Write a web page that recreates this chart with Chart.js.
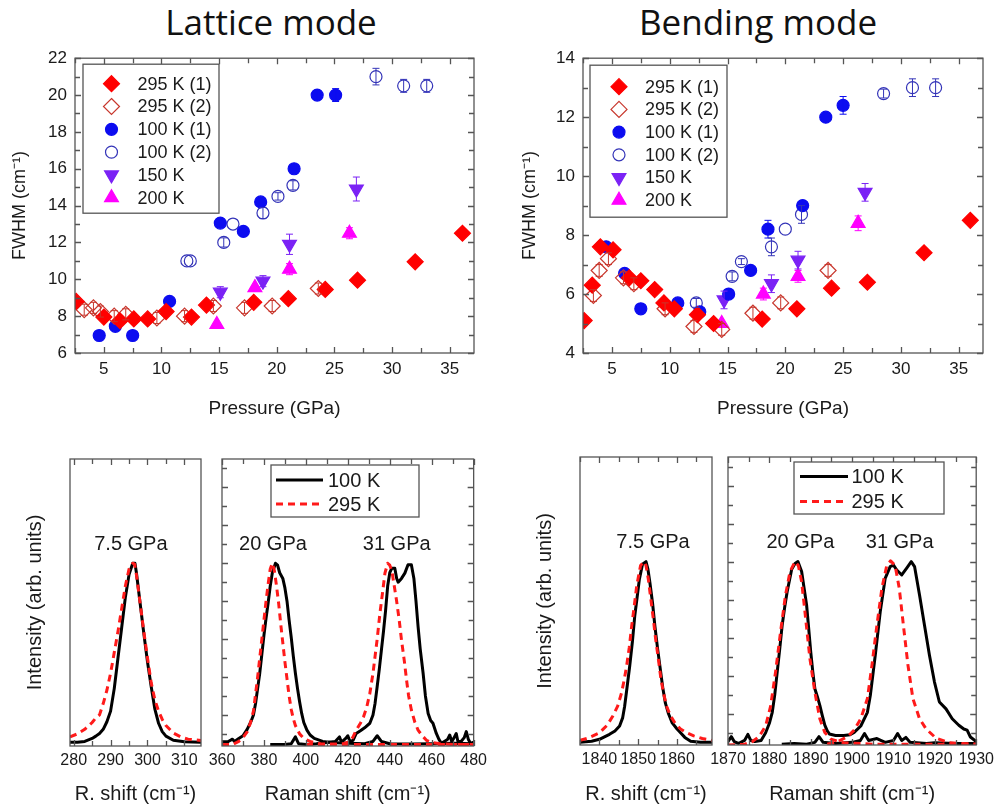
<!DOCTYPE html>
<html>
<head>
<meta charset="utf-8">
<script src="https://cdn.jsdelivr.net/npm/chart.js@4.4.1/dist/chart.umd.min.js"></script>
<style>
  body { margin: 0; background: #fff; width: 999px; height: 806px; position: relative; overflow: hidden; }
  canvas { position: absolute; }
  .ttl { position: absolute; top: 2px; font-family: "Open Sans", sans-serif; font-size: 35px; line-height: 40px; color: #111; transform: translateX(-50%); white-space: nowrap; }
</style>
</head>
<body>
<div class="ttl" style="left:271px">Lattice mode</div>
<div class="ttl" style="left:758px">Bending mode</div>
<canvas id="latFwhm" width="490" height="380" style="left:0;top:40px"></canvas>
<canvas id="bendFwhm" width="499" height="380" style="left:500px;top:40px"></canvas>
<canvas id="latLow" width="212" height="366" style="left:0;top:440px"></canvas>
<canvas id="latHigh" width="296" height="366" style="left:196px;top:440px"></canvas>
<canvas id="bendLow" width="222" height="366" style="left:500px;top:440px"></canvas>
<canvas id="bendHigh" width="299" height="366" style="left:700px;top:440px"></canvas>
<script>
// FWHM vs pressure, points are [pressure GPa, FWHM cm-1, error bar]
var lat295a = [[2.6,8.8],[5.0,7.95],[6.4,7.75],[7.6,7.85],[8.8,7.85],[10.4,8.25],[12.6,7.95],[13.9,8.6],[18.0,8.75],[21.0,8.95],[24.2,9.45],[27.0,9.95],[32.0,10.95],[36.1,12.5]];
var lat295b = [[3.3,8.35,0.3],[4.1,8.45,0.3],[4.7,8.25,0.3],[5.9,8.0,0.3],[6.9,8.1,0.3],[9.6,7.9,0.3],[12.0,8.0,0.3],[14.5,8.55,0.3],[17.2,8.45,0.3],[19.6,8.55,0.3],[23.6,9.5,0.3]];
var lat100a = [[4.6,6.95],[6.0,7.45],[7.5,6.95],[10.7,8.8],[15.1,13.05],[17.1,12.6],[18.6,14.2],[21.5,16.0],[23.5,20.0,0.25],[25.1,20.0,0.35]];
var lat100b = [[12.2,11.0],[12.5,11.0],[15.4,12.0,0.25],[16.2,13.0],[18.8,13.6,0.3],[20.1,14.5,0.2],[21.4,15.1,0.25],[28.6,21.0,0.45],[31.0,20.5,0.35],[33.0,20.5,0.35]];
var lat150 = [[15.1,9.3,0.3],[18.8,9.9,0.3],[21.1,11.9,0.55],[26.9,14.9,0.65]];
var lat200 = [[14.8,7.55],[18.1,9.55],[21.1,10.55,0.3],[26.3,12.5,0.3]];

var bend295a = [[2.6,5.1],[3.3,6.3],[4.0,7.6],[5.1,7.5],[6.5,6.55],[7.5,6.45],[8.7,6.15],[9.5,5.7],[10.4,5.5],[12.4,5.3],[13.8,5.0],[18.0,5.15],[21.0,5.5],[24.0,6.2],[27.1,6.4],[32.0,7.4],[36.0,8.5]];
var bend295b = [[3.4,5.95,0.2],[3.9,6.8,0.2],[4.7,7.2,0.2],[6.0,6.55,0.2],[6.9,6.35,0.2],[9.6,5.5,0.2],[12.1,4.9,0.2],[14.5,4.8,0.2],[17.2,5.35,0.2],[19.6,5.7,0.2],[23.7,6.8,0.2]];
var bend100a = [[4.5,7.6],[6.1,6.7],[7.5,5.5],[10.7,5.7],[12.6,5.4],[15.1,6.0],[17.0,6.8],[18.5,8.2,0.3],[21.5,9.0,0.15],[23.5,12.0],[25.0,12.4,0.3]];
var bend100b = [[12.3,5.7,0.15],[15.4,6.6,0.15],[16.2,7.1,0.1],[18.8,7.6,0.3],[20.0,8.2],[21.4,8.7,0.3],[28.5,12.8,0.15],[31.0,13.0,0.3],[33.0,13.0,0.3]];
var bend150 = [[14.7,5.8,0.3],[18.8,6.35,0.3],[21.1,7.15,0.3],[26.9,9.45,0.3]];
var bend200 = [[14.5,5.0],[18.1,6.0,0.2],[21.1,6.6,0.2],[26.3,8.4,0.25]];

var seriesLabels = ['295 K (1)', '295 K (2)', '100 K (1)', '100 K (2)', '150 K', '200 K'];

// Raman spectra, points are [shift cm-1, intensity]
var lat75Black = [[279,0.28],[281,0.28],[283,0.3],[285,0.38],[286,0.44],[287,0.51],[288,0.62],[289,0.82],[290,1.1],[291,1.7],[292,2.5],[293,3.3],[294,4.1],[295,4.7],[296,5.0],[296.6,5.0],[297,4.75],[298,3.95],[299,3.15],[300,2.4],[301,1.75],[302,1.15],[303,0.78],[304,0.56],[305,0.44],[307,0.33],[310,0.29],[315,0.28]];
var lat75Red = [[279,0.42],[281,0.5],[283,0.62],[285,0.8],[286,0.92],[287,1.0],[288,1.3],[289,1.65],[290,2.1],[291,2.65],[292,3.2],[293,3.8],[294,4.4],[295,4.85],[296,5.0],[296.5,4.98],[297,4.7],[298,3.95],[299,3.2],[300,2.5],[301,1.85],[302,1.4],[303,1.1],[304,0.88],[305,0.72],[307,0.52],[309,0.42],[311,0.36],[315,0.32]];
var lat20Black = [[360,0.29],[363,0.3],[365,0.36],[366,0.3],[368,0.38],[370,0.45],[372,0.62],[374,0.85],[375,1.0],[376,1.3],[377,1.7],[378,2.1],[379,2.6],[380,3.1],[381,3.55],[382,3.95],[383,4.4],[384,4.75],[385.5,5.0],[386.5,4.95],[387.5,4.75],[389,4.6],[390,4.35],[391,4.0],[392,3.5],[393,3.05],[394,2.55],[395,2.1],[396,1.7],[397,1.35],[398,1.04],[399,0.8],[400.5,0.6],[402,0.47],[404,0.38],[408,0.3],[412,0.27],[420,0.25],[428,0.24],[432,0.3],[434,0.45],[436,0.3],[440,0.24],[450,0.23],[460,0.24],[470,0.25],[480,0.24]];
var lat31Black = [[383,0.22],[390,0.22],[393,0.24],[395,0.42],[396.5,0.24],[400,0.22],[405,0.24],[410,0.27],[414,0.3],[416,0.42],[417,0.28],[419,0.38],[420,0.45],[421,0.3],[422.5,0.33],[424,0.51],[426,0.58],[428,0.66],[430.5,0.78],[432,1.0],[433,1.31],[434,1.75],[435,2.2],[436,2.7],[437,3.2],[438,3.75],[439,4.4],[440,4.75],[441,4.87],[442.4,4.87],[443.3,4.6],[444,4.5],[445.6,4.6],[447.2,4.74],[448.7,4.96],[450.3,4.96],[451.5,4.6],[452.5,4.0],[453.5,3.33],[454.5,2.75],[455.9,2.1],[457,1.5],[458.3,1.04],[459.5,0.85],[460.6,0.78],[462.2,0.51],[463.5,0.35],[464.6,0.25],[466,0.3],[467.5,0.35],[468.6,0.47],[469.5,0.3],[470.5,0.38],[471.7,0.51],[472.5,0.3],[474,0.3],[475.5,0.4],[476.5,0.56],[477.5,0.35],[478.5,0.25],[480,0.28]];
var lat20Red = [[360,0.22],[365,0.22],[368,0.3],[370,0.4],[372,0.55],[373.5,0.78],[375,1.1],[376,1.55],[377,2.0],[378,2.5],[379,3.0],[380,3.5],[381,4.0],[382,4.45],[383,4.85],[384,5.0],[385,4.8],[386,4.4],[387,3.95],[388,3.4],[389,2.9],[390,2.4],[391,1.95],[392,1.5],[393,1.15],[394,0.9],[395,0.72],[397,0.5],[399,0.38],[402,0.3],[407,0.24],[415,0.22],[425,0.22],[440,0.22],[460,0.22],[480,0.22]];
var lat31Red = [[400,0.22],[410,0.22],[418,0.24],[421,0.3],[422.5,0.42],[424,0.6],[426,0.78],[427.5,0.95],[429,1.2],[430.5,1.57],[432,2.1],[433,2.55],[434,3.0],[435.3,3.68],[436.5,4.2],[437.7,4.74],[439,5.0],[440,4.95],[441,4.8],[442,4.45],[443.2,4.03],[444.5,3.5],[445.6,2.97],[447,2.4],[448,1.92],[449,1.5],[450.3,1.13],[452,0.8],[453.5,0.6],[455.5,0.45],[457.5,0.33],[460,0.27],[464,0.24],[470,0.22],[480,0.22]];

var bend75Black = [[1835,0.25],[1838,0.28],[1840,0.33],[1842.6,0.46],[1844,0.55],[1845.2,0.68],[1846,0.9],[1846.5,1.2],[1847,1.6],[1847.8,2.25],[1848.5,2.9],[1849.1,3.57],[1849.7,4.05],[1850.3,4.54],[1851.1,4.93],[1852,5.0],[1852.5,4.8],[1853,4.45],[1853.7,3.9],[1854.3,3.3],[1855,2.7],[1855.7,2.16],[1856.3,1.7],[1857,1.28],[1857.8,1.0],[1858.7,0.77],[1860,0.6],[1860.9,0.5],[1862,0.38],[1863.5,0.28],[1866,0.25],[1869,0.25]];
var bend75Red = [[1835,0.3],[1837,0.36],[1840,0.5],[1842,0.7],[1843.5,0.95],[1844.7,1.2],[1845.7,1.55],[1846.4,1.9],[1847,2.25],[1847.7,2.75],[1848.3,3.3],[1849,3.85],[1849.6,4.36],[1850.6,4.9],[1851.5,5.0],[1852,4.9],[1852.6,4.54],[1853.2,4.05],[1853.9,3.48],[1854.5,2.95],[1855.2,2.43],[1855.8,1.95],[1856.5,1.55],[1857.3,1.2],[1858.3,0.95],[1859.5,0.75],[1860.9,0.6],[1862.5,0.5],[1864.3,0.42],[1866.5,0.35],[1869,0.3]];
var bend20Black = [[1870,0.27],[1870.8,0.4],[1871.5,0.27],[1872.5,0.22],[1874,0.3],[1874.8,0.46],[1875.5,0.3],[1876.5,0.27],[1878,0.3],[1879.1,0.5],[1880,0.75],[1880.7,1.04],[1881.3,1.5],[1881.9,2.1],[1882.5,2.7],[1883.1,3.33],[1883.7,3.8],[1884.3,4.21],[1885.4,4.8],[1886.2,4.95],[1886.9,5.0],[1887.8,4.74],[1888.4,4.3],[1889,3.86],[1889.5,3.25],[1890,2.63],[1890.5,2.1],[1891,1.66],[1891.6,1.45],[1892.2,1.22],[1892.8,0.95],[1893.4,0.7],[1894,0.55],[1894.5,0.47],[1896,0.43],[1898,0.43],[1899.5,0.45],[1900.5,0.51],[1902.1,0.68],[1903.7,1.04],[1904.4,1.48],[1905.6,2.54],[1906.8,3.68],[1908,4.56],[1909.2,4.87],[1910,4.91],[1910.8,4.78],[1912,4.65],[1913.2,4.83],[1914.3,5.0],[1915.1,4.87],[1916.3,4.12],[1917.5,3.33],[1918.7,2.54],[1919.9,1.84],[1921.1,1.31],[1922.7,1.13],[1924.2,0.87],[1925.8,0.7],[1927,0.6],[1927.8,0.57],[1928.6,0.39],[1930,0.27]];
var bend31Black = [[1883,0.2],[1886,0.22],[1889,0.2],[1891,0.25],[1892,0.4],[1893,0.25],[1896,0.22],[1900,0.25],[1902,0.3],[1903,0.48],[1904,0.3],[1906,0.35],[1908,0.25],[1910,0.3],[1911,0.48],[1912,0.3],[1913,0.38],[1914,0.25],[1918,0.22],[1920,0.24],[1925,0.22],[1930,0.22]];
var bend20Red = [[1870,0.18],[1874,0.2],[1875.9,0.27],[1877.5,0.4],[1879.1,0.68],[1880.3,1.2],[1881.5,2.1],[1882.7,3.15],[1883.9,4.12],[1885,4.74],[1886.2,5.0],[1887,4.9],[1887.8,4.47],[1888.6,3.68],[1889.8,2.45],[1891,1.57],[1892.2,0.87],[1893.4,0.51],[1894.9,0.33],[1898,0.24],[1905,0.2],[1915,0.2],[1930,0.2]];
var bend31Red = [[1894,0.2],[1896.5,0.27],[1898.9,0.4],[1900.5,0.57],[1902.1,0.87],[1903.7,1.4],[1904.8,2.28],[1906,3.33],[1907.2,4.3],[1908.4,4.91],[1909.3,5.02],[1910.4,4.9],[1911.4,4.3],[1912.4,3.33],[1913.5,2.28],[1914.7,1.4],[1916.3,0.87],[1917.9,0.6],[1920.3,0.36],[1923.4,0.24],[1930,0.2]];

// tick labels
var pressureTicks = [5, 10, 15, 20, 25, 30, 35];
var pressureMinor = [2.5, 7.5, 12.5, 17.5, 22.5, 27.5, 32.5, 37.5];
var latFwhmTicks = [6, 8, 10, 12, 14, 16, 18, 20, 22];
var latFwhmMinor = [7, 9, 11, 13, 15, 17, 19, 21];
var bendFwhmTicks = [4, 6, 8, 10, 12, 14];
var bendFwhmMinor = [5, 7, 9, 11, 13];
var latLowTicks = [280, 290, 300, 310];
var latLowMinor = [285, 295, 305, 315];
var latHighTicks = [360, 380, 400, 420, 440, 460, 480];
var latHighMinor = [370, 390, 410, 430, 450, 470];
var bendLowTicks = [1840, 1850, 1860];
var bendLowMinor = [1835, 1845, 1855, 1865];
var bendHighTicks = [1870, 1880, 1890, 1900, 1910, 1920, 1930];
var bendHighMinor = [1875, 1885, 1895, 1905, 1915, 1925];
var intensityTicks = [1, 2, 3, 4, 5, 6, 7];
var intensityMinor = [0.5, 1.5, 2.5, 3.5, 4.5, 5.5, 6.5, 7.5];

Chart.defaults.font.family = "'Liberation Sans', Arial, sans-serif";
Chart.defaults.color = '#1a1a1a';
Chart.defaults.animation = false;

var AXIS = '#555';
var CM = '(cm\u207B\u00B9)';

// marker shapes for the legends
function marker(ctx, style, r, rot, x, y) {
  ctx.beginPath();
  if (style == 'circle') {
    ctx.arc(x, y, r, 0, Math.PI * 2);
  } else if (style == 'rectRot') {
    ctx.moveTo(x, y - r); ctx.lineTo(x + r, y); ctx.lineTo(x, y + r); ctx.lineTo(x - r, y); ctx.closePath();
  } else {
    var a = (rot || 0) * Math.PI / 180;
    for (var k = 0; k < 3; k++) {
      var px = x + Math.sin(a) * r, py = y - Math.cos(a) * r;
      if (k == 0) ctx.moveTo(px, py); else ctx.lineTo(px, py);
      a += 2 * Math.PI / 3;
    }
    ctx.closePath();
  }
}

// box with inward ticks on all four sides
function framePlugin(xMajor, xMinor, yMajor, yMinor) {
  return {
    id: 'frame',
    afterDraw: function (chart) {
      var ctx = chart.ctx, a = chart.chartArea, sx = chart.scales.x, sy = chart.scales.y;
      ctx.save();
      ctx.strokeStyle = AXIS;
      ctx.lineWidth = 1.3;
      ctx.strokeRect(a.left, a.top, a.right - a.left, a.bottom - a.top);
      ctx.beginPath();
      function xt(list, len) {
        list.forEach(function (v) {
          if (v < sx.min || v > sx.max) return;
          var p = Math.round(sx.getPixelForValue(v)) + 0.5;
          ctx.moveTo(p, a.bottom); ctx.lineTo(p, a.bottom - len);
          ctx.moveTo(p, a.top); ctx.lineTo(p, a.top + len);
        });
      }
      function yt(list, len) {
        list.forEach(function (v) {
          if (v < sy.min || v > sy.max) return;
          var p = Math.round(sy.getPixelForValue(v)) + 0.5;
          ctx.moveTo(a.left, p); ctx.lineTo(a.left + len, p);
          ctx.moveTo(a.right, p); ctx.lineTo(a.right - len, p);
        });
      }
      xt(xMajor, 6); xt(xMinor, 5); yt(yMajor, 6); yt(yMinor, 5);
      ctx.stroke();
      ctx.restore();
    }
  };
}

var errPlugin = {
  id: 'errBars',
  afterDatasetsDraw: function (chart) {
    var ctx = chart.ctx, sx = chart.scales.x, sy = chart.scales.y;
    ctx.save();
    ctx.lineWidth = 1;
    chart.data.datasets.forEach(function (ds) {
      ctx.strokeStyle = ds.borderColor;
      ds.data.forEach(function (p) {
        if (!p.e) return;
        var x = sx.getPixelForValue(p.x), y1 = sy.getPixelForValue(p.y + p.e), y2 = sy.getPixelForValue(p.y - p.e);
        ctx.beginPath();
        ctx.moveTo(x, y1); ctx.lineTo(x, y2);
        ctx.moveTo(x - 3.5, y1); ctx.lineTo(x + 3.5, y1);
        ctx.moveTo(x - 3.5, y2); ctx.lineTo(x + 3.5, y2);
        ctx.stroke();
      });
    });
    ctx.restore();
  }
};

function legendPlugin(box) {
  return {
    id: 'boxLegend',
    afterDraw: function (chart) {
      var ctx = chart.ctx, a = chart.chartArea;
      var bx = a.left + box.x, by = a.top + box.y;
      ctx.save();
      ctx.fillStyle = '#fff';
      ctx.fillRect(bx, by, box.w, box.h);
      ctx.strokeStyle = AXIS;
      ctx.lineWidth = 1.3;
      ctx.strokeRect(bx, by, box.w, box.h);
      ctx.font = box.font + "px 'Liberation Sans', Arial, sans-serif";
      ctx.textBaseline = 'middle';
      var row = 0;
      chart.data.datasets.forEach(function (ds) {
        if (!ds.inLegend) return;
        var y = by + box.first + row * box.step;
        if (ds.showLine === false) {
          marker(ctx, ds.pointStyle, ds.pointRadius, ds.pointRotation, bx + box.sym, y);
          ctx.fillStyle = ds.backgroundColor;
          ctx.fill();
          ctx.strokeStyle = ds.borderColor;
          ctx.lineWidth = ds.pointBorderWidth;
          ctx.stroke();
        } else {
          ctx.beginPath();
          ctx.setLineDash(ds.borderDash || []);
          ctx.strokeStyle = ds.borderColor;
          ctx.lineWidth = ds.borderWidth;
          ctx.moveTo(bx + box.l1, y); ctx.lineTo(bx + box.l2, y);
          ctx.stroke();
          ctx.setLineDash([]);
        }
        ctx.fillStyle = '#1a1a1a';
        ctx.fillText(ds.label, bx + box.text, y + 1);
        row++;
      });
      ctx.restore();
    }
  };
}

function notesPlugin(items) {
  return {
    id: 'notes',
    afterDraw: function (chart) {
      var ctx = chart.ctx, sx = chart.scales.x, sy = chart.scales.y;
      ctx.save();
      ctx.font = "20px 'Liberation Sans', Arial, sans-serif";
      ctx.fillStyle = '#1a1a1a';
      ctx.textAlign = 'center';
      ctx.textBaseline = 'alphabetic';
      items.forEach(function (n) { ctx.fillText(n.text, sx.getPixelForValue(n.x), sy.getPixelForValue(n.y)); });
      ctx.restore();
    }
  };
}

function pts(arr) { return arr.map(function (p) { return {x: p[0], y: p[1], e: p[2] || 0}; }); }
function plain(v) { return String(v); }

var looks = [
  {style: 'rectRot', r: 8, rot: 0, fill: '#ff0000', line: '#ff0000'},
  {style: 'rectRot', r: 8, rot: 0, fill: 'rgba(0,0,0,0)', line: '#c8372d'},
  {style: 'circle', r: 6, rot: 0, fill: '#0c0cf0', line: '#0c0cf0'},
  {style: 'circle', r: 6, rot: 0, fill: 'rgba(0,0,0,0)', line: '#3434b8'},
  {style: 'triangle', r: 8, rot: 180, fill: '#7b22f5', line: '#7b22f5'},
  {style: 'triangle', r: 8, rot: 0, fill: '#ff00ff', line: '#ff00ff'}
];

function fwhmChart(id, sets, yMin, yMax, yTicks, yMinor, yWidth, titlePad, box) {
  var datasets = sets.map(function (arr, i) {
    var lk = looks[i];
    return {
      label: seriesLabels[i], data: pts(arr), showLine: false, inLegend: true,
      pointStyle: lk.style, pointRadius: lk.r, pointHoverRadius: lk.r, pointRotation: lk.rot,
      backgroundColor: lk.fill, borderColor: lk.line, pointBorderWidth: 1.2
    };
  });
  return new Chart(document.getElementById(id), {
    type: 'scatter',
    data: {datasets: datasets},
    options: {
      responsive: false,
      layout: {padding: {left: 0, right: 16, top: 18, bottom: 0}},
      plugins: {legend: {display: false}, tooltip: {enabled: false}},
      scales: {
        x: {
          type: 'linear', min: 2.5, max: 37.1,
          grid: {display: false, drawTicks: false}, border: {display: false},
          afterBuildTicks: function (s) { s.ticks = pressureTicks.map(function (v) { return {value: v}; }); },
          afterFit: function (s) { s.height = 67; },
          ticks: {font: {size: 17}, padding: 6, maxRotation: 0, autoSkip: false, callback: plain},
          title: {display: true, text: 'Pressure (GPa)', font: {size: 19}, padding: {top: 5, bottom: 0}}
        },
        y: {
          min: yMin, max: yMax,
          grid: {display: false, drawTicks: false}, border: {display: false},
          afterBuildTicks: function (s) { s.ticks = yTicks.map(function (v) { return {value: v}; }); },
          afterFit: function (s) { s.width = yWidth; },
          ticks: {font: {size: 17}, padding: 8, autoSkip: false, callback: plain},
          title: {display: true, text: 'FWHM ' + CM, font: {size: 18}, padding: {top: titlePad, bottom: 0}}
        }
      }
    },
    plugins: [framePlugin(pressureTicks, pressureMinor, yTicks, yMinor), errPlugin, legendPlugin(box)]
  });
}

fwhmChart('latFwhm', [lat295a, lat295b, lat100a, lat100b, lat150, lat200], 6, 22, latFwhmTicks, latFwhmMinor, 75, 9,
  {x: 8, y: 6, w: 136, h: 149, first: 19.5, step: 22.8, sym: 28.5, text: 54.5, font: 18});
fwhmChart('bendFwhm', [bend295a, bend295b, bend100a, bend100b, bend150, bend200], 4, 14, bendFwhmTicks, bendFwhmMinor, 83, 19,
  {x: 7, y: 7, w: 137, h: 152, first: 21.5, step: 22.7, sym: 29, text: 55, font: 18});

// black solid = 100 K, red dashed = 295 K; red is drawn on top (lower order)
function curve(arr, hot, inLegend) {
  return {
    label: hot ? '295 K' : '100 K', data: arr.map(function (p) { return {x: p[0], y: p[1]}; }),
    borderColor: hot ? '#ff1a1a' : '#000', borderWidth: 3, borderDash: hot ? [7, 5] : [],
    order: hot ? 1 : 2, pointRadius: 0, tension: 0, fill: false, inLegend: !!inLegend, borderJoinStyle: 'round'
  };
}

function spectrumChart(id, curves, xMin, xMax, xTicks, xMinor, o) {
  return new Chart(document.getElementById(id), {
    type: 'line',
    data: {datasets: curves},
    options: {
      responsive: false,
      layout: {padding: {left: o.padLeft, right: o.padRight, top: o.padTop, bottom: 0}},
      plugins: {legend: {display: false}, tooltip: {enabled: false}},
      scales: {
        x: {
          type: 'linear', min: xMin, max: xMax,
          grid: {display: false, drawTicks: false}, border: {display: false},
          afterBuildTicks: function (s) { s.ticks = xTicks.map(function (v) { return {value: v}; }); },
          afterFit: function (s) { s.height = o.xHeight; },
          ticks: {font: {size: 16}, padding: 5, maxRotation: 0, autoSkip: false, callback: plain},
          title: {display: true, text: o.xTitle, font: {size: 20}, padding: {top: 0, bottom: 0}}
        },
        y: {
          min: 0.18, max: 7.75, display: !!o.yTitle,
          grid: {display: false, drawTicks: false}, border: {display: false},
          ticks: {display: false},
          afterFit: function (s) { s.width = o.yWidth || 0; },
          title: {display: !!o.yTitle, text: o.yTitle, font: {size: 20}, padding: {top: o.yTitlePad || 0, bottom: 0}}
        }
      }
    },
    plugins: [framePlugin(xTicks, xMinor, o.ticksY ? intensityTicks : [], o.ticksY ? intensityMinor : []), notesPlugin(o.notes)]
      .concat(o.box ? [legendPlugin(o.box)] : [])
  });
}

spectrumChart('latLow', [curve(lat75Black, false), curve(lat75Red, true)],
  279, 314.5, latLowTicks, latLowMinor,
  {padLeft: 0, padRight: 11, padTop: 19, xHeight: 60, yWidth: 70, yTitle: 'Intensity (arb. units)', yTitlePad: 23,
   xTitle: 'R. shift ' + CM, notes: [{text: '7.5 GPa', x: 295.5, y: 5.35}]});
spectrumChart('latHigh', [curve(lat20Black, false, true), curve(lat31Black, false), curve(lat20Red, true, true), curve(lat31Red, true)],
  360, 480, latHighTicks, latHighMinor,
  {padLeft: 26, padRight: 18, padTop: 19, xHeight: 60, ticksY: true, xTitle: 'Raman shift ' + CM,
   notes: [{text: '20 GPa', x: 384.3, y: 5.35}, {text: '31 GPa', x: 443.3, y: 5.35}],
   box: {x: 49, y: 6, w: 148, h: 52, first: 15, step: 24, l1: 5, l2: 52, text: 57, font: 20}});
spectrumChart('bendLow', [curve(bend75Black, false), curve(bend75Red, true)],
  1835, 1869, bendLowTicks, bendLowMinor,
  {padLeft: 0, padRight: 10, padTop: 17, xHeight: 61, yWidth: 80, yTitle: 'Intensity (arb. units)', yTitlePad: 33,
   xTitle: 'R. shift ' + CM, notes: [{text: '7.5 GPa', x: 1853.8, y: 5.35}]});
spectrumChart('bendHigh', [curve(bend20Black, false, true), curve(bend31Black, false), curve(bend20Red, true, true), curve(bend31Red, true)],
  1870, 1930, bendHighTicks, bendHighMinor,
  {padLeft: 28, padRight: 18, padTop: 17, xHeight: 61, ticksY: true, xTitle: 'Raman shift ' + CM,
   notes: [{text: '20 GPa', x: 1887.5, y: 5.35}, {text: '31 GPa', x: 1911.5, y: 5.35}],
   box: {x: 66, y: 5, w: 150, h: 52, first: 14.5, step: 25, l1: 6, l2: 54, text: 57.5, font: 20}});
</script>
</body>
</html>
